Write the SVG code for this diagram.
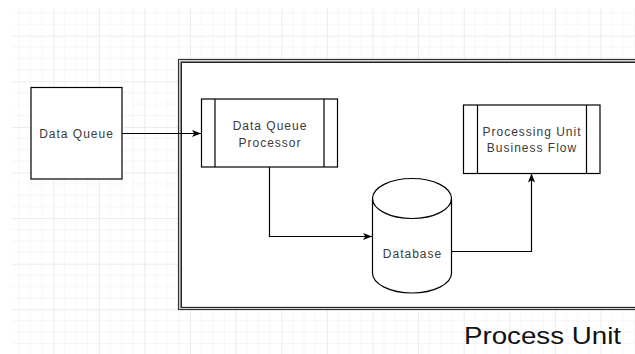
<svg xmlns="http://www.w3.org/2000/svg" width="635" height="354" viewBox="0 0 635 354">
  <defs>
    <!-- drawing-canvas grid: 4 minor cells per major cell -->
    <pattern id="grid" patternUnits="userSpaceOnUse" x="7.7" y="-9.9" width="45.6" height="45.6">
      <path d="M11.4 0V45.6M22.8 0V45.6M34.2 0V45.6M0 11.4H45.6M0 22.8H45.6M0 34.2H45.6" stroke="#f6f6f6" stroke-width="1" fill="none"/>
      <path d="M0.5 0V45.6M0 0.5H45.6" stroke="#ebebeb" stroke-width="1" fill="none"/>
    </pattern>
    <marker id="arrow" viewBox="0 0 10 10" refX="10" refY="5" markerWidth="9" markerHeight="9" markerUnits="userSpaceOnUse" orient="auto">
      <path d="M0 1L10 5L0 9L2.5 5Z" fill="#000"/>
    </marker>
  </defs>
  <style>
    .box { fill: #fff; stroke: #000; stroke-width: 1.2; }
    .bar { stroke: #000; stroke-width: 1.2; fill: none; }
    .lbl { font-family: "Liberation Sans", Arial, sans-serif; font-size: 12px; letter-spacing: 1px; fill: #3a3a3a; text-anchor: middle; }
    .edge { fill: none; stroke: #000; stroke-width: 1.2; marker-end: url(#arrow); }
  </style>

  <rect x="0" y="0" width="635" height="354" fill="#fff"/>
  <rect x="12" y="8" width="623" height="346" fill="url(#grid)"/>

  <!-- container: Process Unit -->
  <g id="process-unit">
    <rect x="178.5" y="59.5" width="470" height="250" fill="#fff" stroke="#333" stroke-width="1.2"/>
    <path d="M180.5 61.5H648M180.5 61.5V307.5H648" fill="none" stroke="#888" stroke-width="1.6"/>
    <path d="M181.5 62.5H648M181.5 62.5V307.5H648" fill="none" stroke="#222" stroke-width="1"/>
    <text x="464" y="343.5" textLength="157" lengthAdjust="spacingAndGlyphs" font-family="'Liberation Sans', Arial, sans-serif" font-size="24.5" fill="#111">Process Unit</text>
  </g>

  <!-- node: Data Queue -->
  <g id="data-queue">
    <rect class="box" x="31" y="87.5" width="91" height="91.5"/>
    <text class="lbl" x="76.5" y="137.5">Data Queue</text>
  </g>

  <!-- node: Data Queue Processor (subprocess) -->
  <g id="dq-processor">
    <rect class="box" x="201.5" y="99" width="136" height="68"/>
    <path class="bar" d="M215 99V167M324 99V167"/>
    <text class="lbl" x="270" y="130">Data Queue</text>
    <text class="lbl" x="270" y="146.5">Processor</text>
  </g>

  <!-- node: Processing Unit Business Flow (subprocess) -->
  <g id="pu-business-flow">
    <rect class="box" x="463.5" y="105" width="136.5" height="68.5"/>
    <path class="bar" d="M477.5 105V173.5M586.5 105V173.5"/>
    <text class="lbl" x="532" y="135.5">Processing Unit</text>
    <text class="lbl" x="532" y="151.5">Business Flow</text>
  </g>

  <!-- node: Database (cylinder) -->
  <g id="database">
    <path class="box" d="M372.5 198.5A39.5 20 0 0 1 451.5 198.5V273A39.5 20 0 0 1 372.5 273Z"/>
    <path class="bar" d="M372.5 198.5A39.5 20 0 0 0 451.5 198.5"/>
    <text class="lbl" x="412.5" y="258">Database</text>
  </g>

  <!-- connectors -->
  <g id="connectors">
    <path class="edge" d="M122 133.5H201"/>
    <path class="edge" d="M269.5 167V236.5H372"/>
    <path class="edge" d="M451.5 251.5H531.5V173.5"/>
  </g>
</svg>
